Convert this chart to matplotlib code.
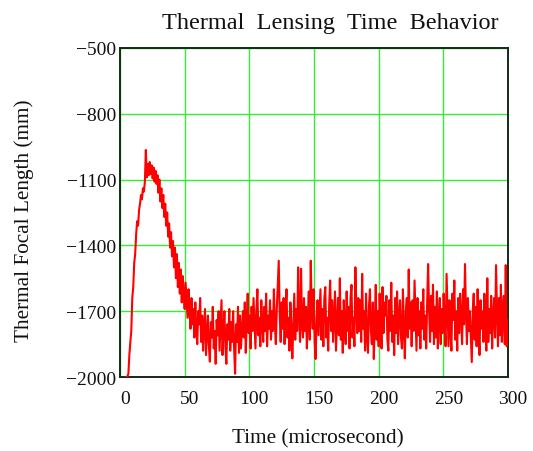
import numpy as np
import matplotlib
matplotlib.use('Agg')
import matplotlib.pyplot as plt
from matplotlib.ticker import FuncFormatter
from matplotlib.transforms import ScaledTranslation

# sampling of the focal length trace (microseconds)
t_start = 5.0
t_step = 0.75

# thermal focal length (mm), one row per 15 microseconds
focal_length = [
    -2000, -1998, -1985, -1900, -1840, -1790, -1640, -1590, -1480, -1440, -1350, -1290, -1310, -1240, -1210, -1170, -1190, -1140, -1155, -1110,
    -965, -1090, -1030, -1080, -1020, -1075, -1035, -1095, -1045, -1110, -1060, -1120, -1080, -1160, -1100, -1200, -1140, -1230, -1170, -1270,
    -1210, -1310, -1250, -1360, -1300, -1410, -1340, -1450, -1380, -1500, -1410, -1550, -1440, -1590, -1480, -1620, -1510, -1660, -1540, -1610,
    -1690, -1570, -1650, -1730, -1600, -1700, -1780, -1640, -1760, -1690, -1820, -1660, -1780, -1850, -1700, -1760, -1640, -1840, -1720, -1880,
    -1760, -1690, -1900, -1800, -1720, -1860, -1930, -1750, -1820, -1680, -1870, -1790, -1940, -1740, -1810, -1700, -1880, -1770, -1650, -1900,
    -1790, -1700, -1860, -1940, -1760, -1830, -1690, -1880, -1750, -1840, -1700, -1870, -1985, -1760, -1840, -1680, -1890, -1720, -1870, -1780,
    -1700, -1820, -1660, -1890, -1740, -1620, -1800, -1720, -1870, -1680, -1790, -1640, -1760, -1870, -1690, -1600, -1810, -1730, -1860, -1650,
    -1760, -1840, -1680, -1790, -1620, -1860, -1720, -1780, -1650, -1830, -1700, -1790, -1600, -1760, -1850, -1690, -1580, -1470, -1720, -1840,
    -1660, -1780, -1640, -1850, -1700, -1600, -1820, -1730, -1880, -1660, -1770, -1915, -1760, -1620, -1830, -1690, -1790, -1500, -1720, -1840,
    -1507, -1760, -1820, -1640, -1790, -1680, -1870, -1720, -1610, -1830, -1470, -1700, -1780, -1600, -1840, -1918, -1740, -1650, -1810, -1700,
    -1600, -1830, -1690, -1860, -1640, -1590, -1820, -1730, -1880, -1670, -1560, -1790, -1650, -1840, -1720, -1610, -1880, -1760, -1640, -1810,
    -1550, -1830, -1700, -1890, -1650, -1760, -1850, -1610, -1790, -1680, -1870, -1640, -1580, -1820, -1730, -1860, -1500, -1680, -1800, -1640,
    -1790, -1650, -1840, -1530, -1780, -1700, -1880, -1620, -1820, -1890, -1680, -1600, -1790, -1850, -1660, -1918, -1760, -1580, -1830, -1700,
    -1860, -1620, -1760, -1870, -1590, -1800, -1660, -1720, -1630, -1830, -1880, -1650, -1790, -1570, -1840, -1720, -1900, -1640, -1800, -1610,
    -1850, -1730, -1650, -1820, -1870, -1600, -1780, -1915, -1700, -1640, -1820, -1510, -1780, -1660, -1860, -1650, -1790, -1560, -1720, -1880,
    -1640, -1810, -1700, -1870, -1660, -1780, -1600, -1830, -1720, -1870, -1660, -1485, -1700, -1840, -1630, -1790, -1580, -1850, -1680, -1820,
    -1610, -1870, -1740, -1640, -1850, -1690, -1800, -1620, -1760, -1860, -1530, -1700, -1860, -1650, -1790, -1880, -1620, -1740, -1560, -1830,
    -1700, -1880, -1640, -1800, -1620, -1720, -1850, -1600, -1760, -1485, -1700, -1850, -1640, -1790, -1700, -1820, -1932, -1700, -1620, -1830,
    -1680, -1860, -1600, -1790, -1900, -1650, -1780, -1700, -1840, -1620, -1760, -1880, -1550, -1840, -1690, -1800, -1630, -1870, -1720, -1640,
    -1820, -1490, -1700, -1860, -1640, -1810, -1580, -1840, -1700, -1630, -1850, -1490, -1860, -1740,
]

x_ticks = [0, 50, 100, 150, 200, 250, 300]
y_ticks = [-2000, -1700, -1400, -1100, -800, -500]

plt.rcParams['font.family'] = ['Liberation Serif', 'DejaVu Serif']

time_us = t_start + t_step * np.arange(len(focal_length))

fig = plt.figure(figsize=(5.33, 4.52), dpi=100)
ax = fig.add_axes([0.2251, 0.1637, 0.728, 0.728])

ax.plot(time_us, focal_length, color='#ff0000', linewidth=1.5, zorder=3)

ax.set_xlim(0, 300)
ax.set_ylim(-2000, -500)
ax.set_xticks(x_ticks)
ax.set_yticks(y_ticks)
ax.grid(True, color='#33ee33', linewidth=1.0)
ax.set_axisbelow(True)

# Mathcad style: long minus sign, no tick marks
ax.yaxis.set_major_formatter(FuncFormatter(lambda v, p: f'\u2212{abs(int(v))}' if v < 0 else f'{int(v)}'))
ax.tick_params(length=0, labelsize=14, colors='#111111')
ax.tick_params(axis='x', pad=9)
ax.tick_params(axis='y', pad=2.5)
# x labels sit a little right of their grid lines
shift = ScaledTranslation(0.05, 0, fig.dpi_scale_trans)
for lbl in ax.get_xticklabels():
    lbl.set_transform(lbl.get_transform() + shift)
for side in ['left', 'bottom', 'top', 'right']:
    ax.spines[side].set_color('#132a13')
    ax.spines[side].set_linewidth(1.4)

fig.text(0.619, 0.949, 'Thermal  Lensing  Time  Behavior', ha='center', va='center', fontsize=17.5, color='#111111')
fig.text(0.597, 0.029, 'Time (microsecond)', ha='center', va='center', fontsize=15.3, color='#111111')
fig.text(0.045, 0.511, 'Thermal Focal Length (mm)', ha='center', va='center', rotation=90, fontsize=15.3, color='#111111')

fig.savefig('out.png', dpi=100)
